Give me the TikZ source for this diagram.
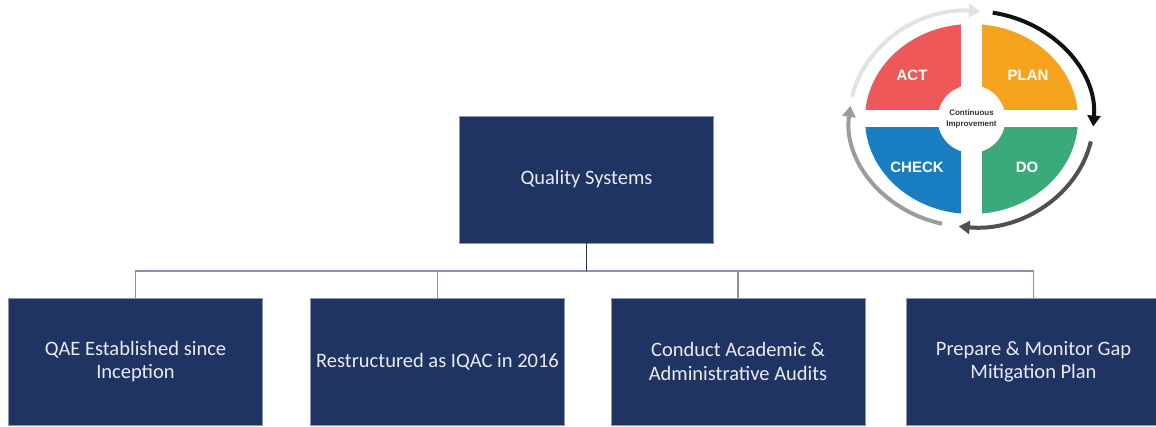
\documentclass[tikz,border=0pt]{standalone}
\usepackage{fontspec}
\setmainfont{Carlito}
\newfontfamily\labfont{Liberation Sans}
\usetikzlibrary{arrows.meta}
\definecolor{navy}{HTML}{1F3462}
\definecolor{busgray}{HTML}{8593AB}
\definecolor{boxedge}{HTML}{8A97AD}
\definecolor{txt}{HTML}{EAEBF0}
\definecolor{actred}{HTML}{EF5858}
\definecolor{planorange}{HTML}{F6A320}
\definecolor{dogreen}{HTML}{3AAA7A}
\definecolor{checkblue}{HTML}{197DC1}
\definecolor{arclight}{HTML}{E2E2E2}
\definecolor{arcblack}{HTML}{111111}
\definecolor{arcdark}{HTML}{505050}
\definecolor{arcmid}{HTML}{9C9C9C}
\begin{document}
\begin{tikzpicture}[x=1pt,y=1pt,
  orgbox/.style={draw=boxedge, line width=0.6pt, fill=navy, text=txt,
    minimum width=254pt, minimum height=127pt, inner sep=0pt,
    align=center, font=\fontsize{20.5}{23.5}\selectfont},
  bus/.style={draw=busgray, line width=1.4pt},
  stem/.style={draw=navy, line width=1.6pt},
  qlabel/.style={text=white, font=\labfont\bfseries\fontsize{15}{18}\selectfont},
  cycarrow/.style={line width=4pt, -{Triangle[length=11pt,width=13pt]}}]
\useasboundingbox (0,0) rectangle (1156,426);
\fill[white] (0,0) rectangle (1156,426);
% org chart
\node[orgbox] (top) at (586.5,246.5) {Quality Systems};
\node[orgbox] (b1) at (135.5,64.5) {QAE Established since\\Inception};
\node[orgbox] (b2) at (437.5,64.5) {Restructured as IQAC in 2016};
\node[orgbox] (b3) at (738,64.5) {Conduct Academic \&\\Administrative Audits};
\node[orgbox] (b4) at (1033.5,64.5) {Prepare \& Monitor Gap\\Mitigation Plan};
\coordinate (bus) at (586.5,155);
\draw[bus] (b1.north) -- (b1.north |- bus) -- (b4.north |- bus) -- (b4.north);
\draw[bus] (b2.north) -- (b2.north |- bus);
\draw[bus] (b3.north) -- (b3.north |- bus);
\draw[stem] (top.south) -- (bus);
% PDCA cycle
\coordinate (c) at (971.5,307);
\def\gx{10.5}\def\gy{9}
\begin{scope}
  \clip (850,307+\gy) rectangle (971.5-\gx,420);
  \fill[actred, even odd rule] (c) ellipse[x radius=106.5, y radius=95] (c) circle[radius=34];
\end{scope}
\begin{scope}
  \clip (971.5+\gx,307+\gy) rectangle (1095,420);
  \fill[planorange, even odd rule] (c) ellipse[x radius=106.5, y radius=95] (c) circle[radius=34];
\end{scope}
\begin{scope}
  \clip (971.5+\gx,307-\gy) rectangle (1095,190);
  \fill[dogreen, even odd rule] (c) ellipse[x radius=106.5, y radius=95] (c) circle[radius=34];
\end{scope}
\begin{scope}
  \clip (850,307-\gy) rectangle (971.5-\gx,190);
  \fill[checkblue, even odd rule] (c) ellipse[x radius=106.5, y radius=95] (c) circle[radius=34];
\end{scope}
\node[qlabel] (act) at (912,351) {ACT};
\node[qlabel] (plan) at (1028,351) {PLAN};
\node[qlabel] (check) at (917,259) {CHECK};
\node[qlabel] (do) at (1027,259) {DO};
\node[text=black!80, align=center, font=\labfont\bfseries\fontsize{8}{10.5}\selectfont] (ci) at (c) {Continuous\\Improvement};
% cycle arrows
\draw[cycarrow, arclight] (c) ++(168:122 and 108) arc[start angle=168, end angle=86, x radius=122, y radius=108];
\draw[cycarrow, arcblack] (c) ++(80:122 and 108) arc[start angle=80, end angle=-4, x radius=122, y radius=108];
\draw[cycarrow, arcdark] (c) ++(-12:122 and 108) arc[start angle=-12, end angle=-96, x radius=122, y radius=108];
\draw[cycarrow, arcmid] (c) ++(-104:122 and 108) arc[start angle=-104, end angle=-187, x radius=122, y radius=108];
\end{tikzpicture}
\end{document}
